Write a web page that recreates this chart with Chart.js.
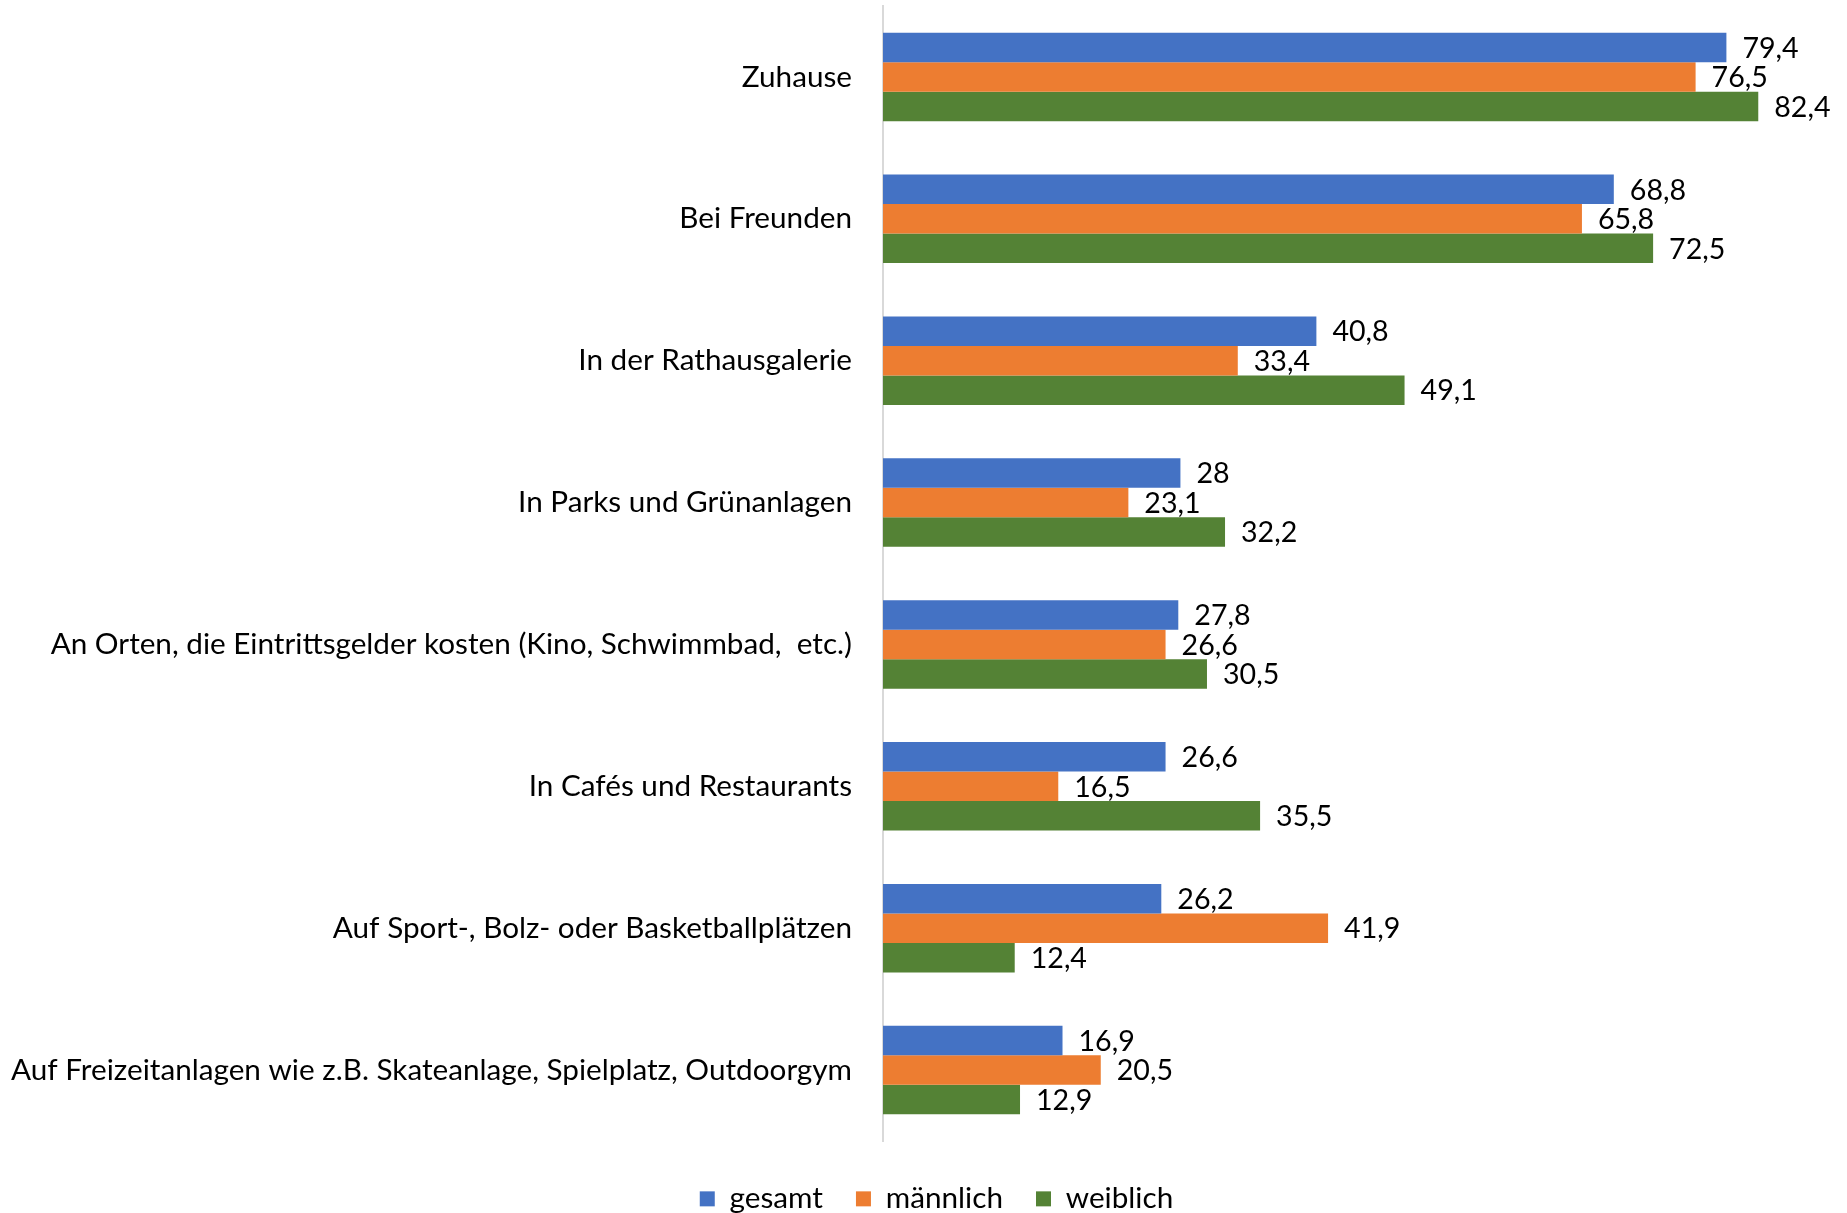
<!DOCTYPE html>
<html><head><meta charset="utf-8">
<script src="https://cdn.jsdelivr.net/npm/chart.js@4/dist/chart.umd.min.js"></script>
<style>html,body{margin:0;padding:0;background:#fff;overflow:hidden}</style>
</head><body>
<canvas id="c" width="1847" height="1213"></canvas>
<script>
const categories = [
  "Zuhause",
  "Bei Freunden",
  "In der Rathausgalerie",
  "In Parks und Grünanlagen",
  "An Orten, die Eintrittsgelder kosten (Kino, Schwimmbad,  etc.)",
  "In Cafés und Restaurants",
  "Auf Sport-, Bolz- oder Basketballplätzen",
  "Auf Freizeitanlagen wie z.B. Skateanlage, Spielplatz, Outdoorgym"
];
const seriesNames = ["gesamt", "männlich", "weiblich"];
const gesamt   = [79.4, 68.8, 40.8, 28.0, 27.8, 26.6, 26.2, 16.9];
const maennlich = [76.5, 65.8, 33.4, 23.1, 26.6, 16.5, 41.9, 20.5];
const weiblich = [82.4, 72.5, 49.1, 32.2, 30.5, 35.5, 12.4, 12.9];
const xMax = 90;

const FONT = "Lato";
const FS = 29.7;
const FS_VAL = 28.6;
const LEGEND_SHIFT = 17;

const valueLabels = {
  id: 'valueLabels',
  afterDatasetsDraw(chart) {
    const ctx = chart.ctx;
    ctx.save();
    ctx.font = FS_VAL + "px " + FONT;
    ctx.fillStyle = "#000";
    ctx.textAlign = "left";
    ctx.textBaseline = "middle";
    chart.data.datasets.forEach((ds, di) => {
      const meta = chart.getDatasetMeta(di);
      meta.data.forEach((bar, i) => {
        const txt = String(ds.data[i]).replace('.', ',');
        ctx.fillText(txt, bar.x + 16, bar.y + 1);
      });
    });
    ctx.restore();
  }
};

const legendShift = {
  id: 'legendShift',
  afterLayout(chart) {
    if (chart.legend) {
      chart.legend.left += LEGEND_SHIFT;
      chart.legend.right += LEGEND_SHIFT;
    }
  }
};

new Chart(document.getElementById('c'), {
  type: 'bar',
  data: {
    labels: categories,
    datasets: [
      { label: seriesNames[0], data: gesamt, backgroundColor: '#4472C4' },
      { label: seriesNames[1], data: maennlich, backgroundColor: '#ED7D31' },
      { label: seriesNames[2], data: weiblich, backgroundColor: '#548235' }
    ]
  },
  options: {
    indexAxis: 'y',
    responsive: false,
    animation: false,
    devicePixelRatio: 1,
    datasets: { bar: { categoryPercentage: 0.623, barPercentage: 1.0, borderWidth: 0 } },
    layout: { padding: { top: 6, right: 8, left: 0, bottom: 0 } },
    scales: {
      x: {
        min: 0, max: xMax,
        display: true,
        grid: { display: false, drawTicks: false },
        border: { display: false },
        ticks: { display: false },
        afterFit(s) { s.height = 10; s.paddingLeft = 0; s.paddingRight = 0; }
      },
      y: {
        grid: { display: false, drawTicks: false },
        border: { display: true, color: '#D9D9D9', width: 2 },
        ticks: { color: '#000', font: { family: FONT, size: FS }, padding: 31, autoSkip: false },
        afterFit(s) { s.width = 883; s.paddingTop = 0; s.paddingBottom = 0; }
      }
    },
    plugins: {
      legend: {
        position: 'bottom',
        maxHeight: 62,
        labels: {
          boxWidth: 15, boxHeight: 15, padding: 33,
          color: '#000',
          font: { family: FONT, size: FS }
        }
      },
      tooltip: { enabled: false }
    }
  },
  plugins: [valueLabels, legendShift]
});
</script>
</body></html>
